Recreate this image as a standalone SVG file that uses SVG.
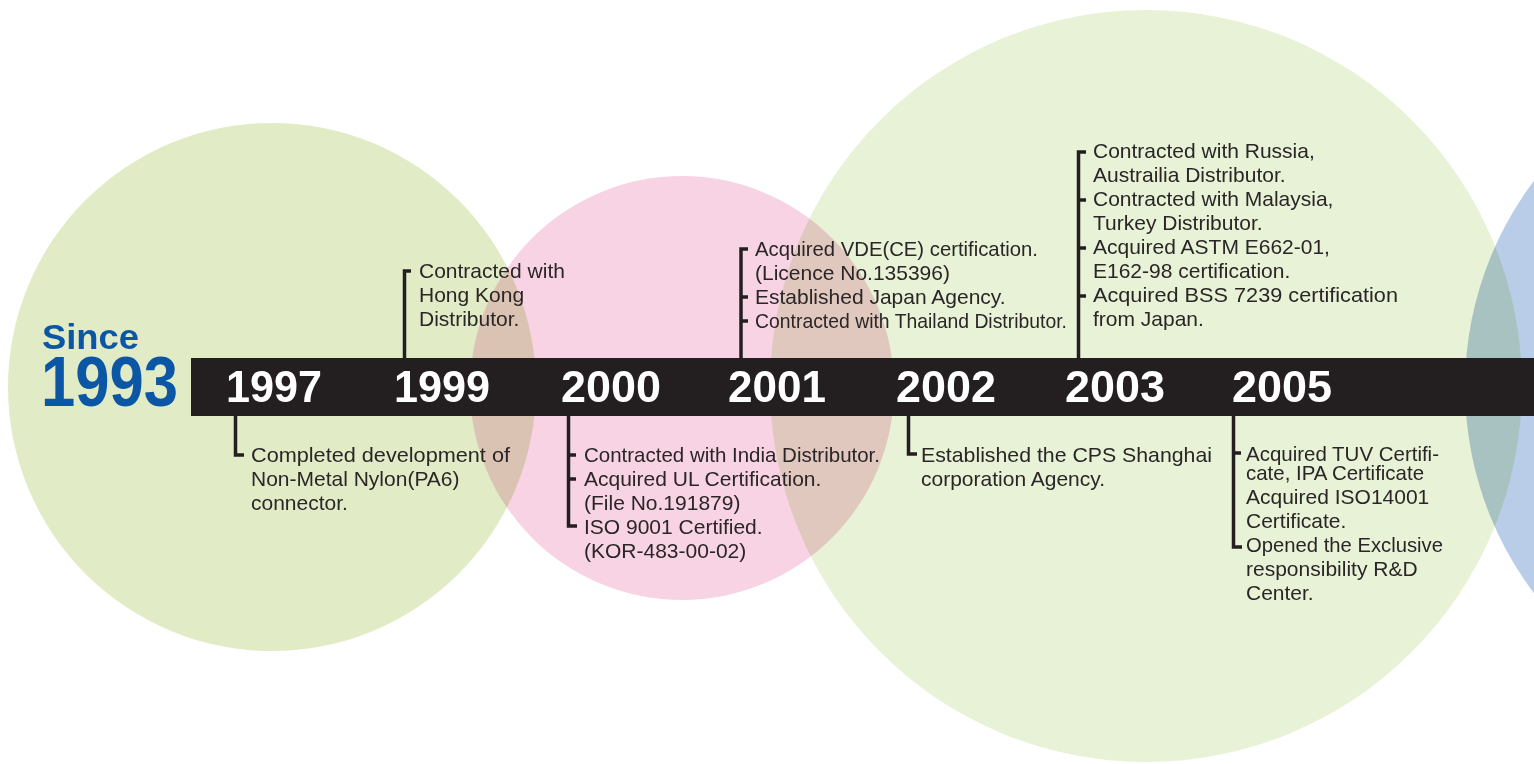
<svg xmlns="http://www.w3.org/2000/svg" width="1534" height="764" viewBox="0 0 1534 764">
<style>
.c{mix-blend-mode:multiply}
.t{font-family:"Liberation Sans",Arial,sans-serif;font-size:21px;fill:#2a2627}
.y{font-family:"Liberation Sans",Arial,sans-serif;font-size:44px;font-weight:bold;fill:#ffffff}
.k{fill:none;stroke:#231f20;stroke-width:3.5;stroke-linejoin:miter}
.s{font-family:"Liberation Sans",Arial,sans-serif;font-weight:bold;fill:#0b57a6}
</style>
<rect width="1534" height="764" fill="#ffffff"/>
<g id="circles">
<circle class="c" cx="272" cy="387" r="264" fill="#e1ecc7"/>
<circle class="c" cx="682" cy="388" r="212" fill="#f8d3e4"/>
<circle class="c" cx="1146" cy="386" r="376" fill="#e8f2d6"/>
<circle class="c" cx="1808" cy="387" r="343" fill="#b9cde8"/>
</g>
<g id="since">
<text class="s"><tspan x="42" y="349" font-size="35" textLength="97" lengthAdjust="spacingAndGlyphs">Since</tspan><tspan x="41" y="406" font-size="70" textLength="137" lengthAdjust="spacingAndGlyphs">1993</tspan></text>
</g>
<rect id="bar" x="191" y="358" width="1343" height="58" fill="#231f20"/>
<g id="years">
<text class="y" x="226" y="402" textLength="96" lengthAdjust="spacingAndGlyphs">1997</text>
<text class="y" x="394" y="402" textLength="96" lengthAdjust="spacingAndGlyphs">1999</text>
<text class="y" x="561" y="402" textLength="100" lengthAdjust="spacingAndGlyphs">2000</text>
<text class="y" x="728" y="402" textLength="98" lengthAdjust="spacingAndGlyphs">2001</text>
<text class="y" x="896" y="402" textLength="100" lengthAdjust="spacingAndGlyphs">2002</text>
<text class="y" x="1065" y="402" textLength="100" lengthAdjust="spacingAndGlyphs">2003</text>
<text class="y" x="1232" y="402" textLength="100" lengthAdjust="spacingAndGlyphs">2005</text>
</g>
<g id="connectors">
<path class="k" d="M235.5 416 V455 H244"/>
<path class="k" d="M411 271 H404.5 V358"/>
<path class="k" d="M568.5 416 V526 H577 M568.5 455 H576 M568.5 479 H576"/>
<path class="k" d="M748 249 H741 V358 M741 297 H748 M741 321 H748"/>
<path class="k" d="M908.5 416 V454 H917"/>
<path class="k" d="M1086 152 H1078.5 V358 M1078.5 200 H1086 M1078.5 248 H1086 M1078.5 296 H1086"/>
<path class="k" d="M1233.5 416 V547 H1242 M1233.5 453 H1241"/>
</g>
<g id="n1997">
<text class="t" x="251" y="462" textLength="259" lengthAdjust="spacingAndGlyphs">Completed development of</text>
<text class="t" x="251" y="486">Non-Metal Nylon(PA6)</text>
<text class="t" x="251" y="510">connector.</text>
</g>
<g id="n1999">
<text class="t" x="419" y="278">Contracted with</text>
<text class="t" x="419" y="302">Hong Kong</text>
<text class="t" x="419" y="326">Distributor.</text>
</g>
<g id="n2000">
<text class="t" x="584" y="462" textLength="296" lengthAdjust="spacingAndGlyphs">Contracted with India Distributor.</text>
<text class="t" x="584" y="486">Acquired UL Certification.</text>
<text class="t" x="584" y="510">(File No.191879)</text>
<text class="t" x="584" y="534">ISO 9001 Certified.</text>
<text class="t" x="584" y="558">(KOR-483-00-02)</text>
</g>
<g id="n2001">
<text class="t" x="755" y="256" textLength="283" lengthAdjust="spacingAndGlyphs">Acquired VDE(CE) certification.</text>
<text class="t" x="755" y="280">(Licence No.135396)</text>
<text class="t" x="755" y="304">Established Japan Agency.</text>
<text class="t" x="755" y="328" textLength="312" lengthAdjust="spacingAndGlyphs">Contracted with Thailand Distributor.</text>
</g>
<g id="n2002">
<text class="t" x="921" y="462" textLength="291" lengthAdjust="spacingAndGlyphs">Established the CPS Shanghai</text>
<text class="t" x="921" y="486">corporation Agency.</text>
</g>
<g id="n2003">
<text class="t" x="1093" y="158">Contracted with Russia,</text>
<text class="t" x="1093" y="182">Austrailia Distributor.</text>
<text class="t" x="1093" y="206">Contracted with Malaysia,</text>
<text class="t" x="1093" y="230">Turkey Distributor.</text>
<text class="t" x="1093" y="254">Acquired ASTM E662-01,</text>
<text class="t" x="1093" y="278">E162-98 certification.</text>
<text class="t" x="1093" y="302" textLength="305" lengthAdjust="spacingAndGlyphs">Acquired BSS 7239 certification</text>
<text class="t" x="1093" y="326">from Japan.</text>
</g>
<g id="n2005">
<text class="t"><tspan x="1246" y="461" textLength="193" lengthAdjust="spacingAndGlyphs">Acquired TUV Certifi-</tspan><tspan x="1246" y="480" textLength="178" lengthAdjust="spacingAndGlyphs">cate, IPA Certificate</tspan></text>
<text class="t" x="1246" y="504">Acquired ISO14001</text>
<text class="t" x="1246" y="528">Certificate.</text>
<text class="t" x="1246" y="552" textLength="197" lengthAdjust="spacingAndGlyphs">Opened the Exclusive</text>
<text class="t" x="1246" y="576">responsibility R&amp;D</text>
<text class="t" x="1246" y="600">Center.</text>
</g>
</svg>
